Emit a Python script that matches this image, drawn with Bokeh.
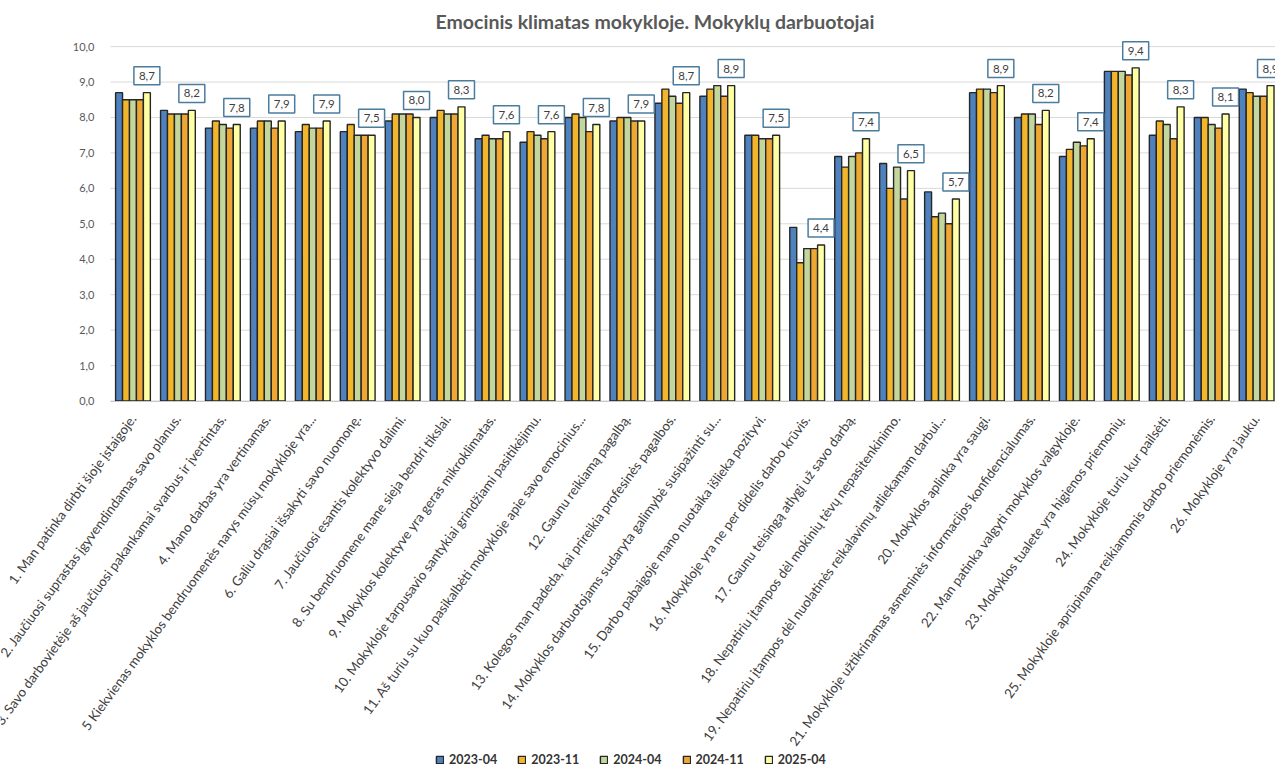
from bokeh.plotting import figure
from bokeh.models import (ColumnDataSource, Range1d, FixedTicker,
                          Legend, LegendItem)
from bokeh.transform import dodge
from bokeh.embed import file_html
from bokeh.resources import INLINE
from bokeh.core.properties import value

title_text = "Emocinis klimatas mokykloje. Mokyklų darbuotojai"

questions = [
    "1. Man patinka dirbti šioje įstaigoje.",
    "2. Jaučiuosi suprastas įgyvendindamas savo planus.",
    "3. Savo darbovietėje aš jaučiuosi pakankamai svarbus ir įvertintas.",
    "4. Mano darbas yra vertinamas.",
    "5 Kiekvienas mokyklos bendruomenės narys mūsų mokykloje yra...",
    "6. Galiu drąsiai išsakyti savo nuomonę.",
    "7. Jaučiuosi esantis kolektyvo dalimi.",
    "8. Su bendruomene mane sieja bendri tikslai.",
    "9. Mokyklos kolektyve yra geras mikroklimatas.",
    "10. Mokykloje tarpusavio santykiai grindžiami pasitikėjimu.",
    "11. Aš turiu su kuo pasikalbėti mokykloje apie savo emocinius...",
    "12. Gaunu reikiamą pagalbą.",
    "13. Kolegos man padeda, kai prireikia profesinės pagalbos.",
    "14. Mokyklos darbuotojams sudaryta galimybė susipažinti su...",
    "15. Darbo pabaigoje mano nuotaika išlieka pozityvi.",
    "16. Mokykloje yra ne per didelis darbo krūvis.",
    "17. Gaunu teisingą atlygį už savo darbą.",
    "18. Nepatiriu įtampos dėl mokinių tėvų nepasitenkinimo.",
    "19. Nepatiriu įtampos dėl nuolatinės reikalavimų atliekamam darbui...",
    "20. Mokyklos aplinka yra saugi.",
    "21. Mokykloje užtikrinamas asmeninės informacijos konfidencialumas.",
    "22. Man patinka valgyti mokyklos valgykloje.",
    "23. Mokyklos tualete yra higienos priemonių.",
    "24. Mokykloje turiu kur pailsėti.",
    "25. Mokykloje aprūpinama reikiamomis darbo priemonėmis.",
    "26. Mokykloje yra jauku.",
]

series_names = ["2023-04", "2023-11", "2024-04", "2024-11", "2025-04"]

s2023_04 = [8.7, 8.2, 7.7, 7.7, 7.6, 7.6, 7.9, 8.0, 7.4, 7.3, 8.0, 7.9, 8.4,
            8.6, 7.5, 4.9, 6.9, 6.7, 5.9, 8.7, 8.0, 6.9, 9.3, 7.5, 8.0, 8.8]
s2023_11 = [8.5, 8.1, 7.9, 7.9, 7.8, 7.8, 8.1, 8.2, 7.5, 7.6, 8.1, 8.0, 8.8,
            8.8, 7.5, 3.9, 6.6, 6.0, 5.2, 8.8, 8.1, 7.1, 9.3, 7.9, 8.0, 8.7]
s2024_04 = [8.5, 8.1, 7.8, 7.9, 7.7, 7.5, 8.1, 8.1, 7.4, 7.5, 8.0, 8.0, 8.6,
            8.9, 7.4, 4.3, 6.9, 6.6, 5.3, 8.8, 8.1, 7.3, 9.3, 7.8, 7.8, 8.6]
s2024_11 = [8.5, 8.1, 7.7, 7.7, 7.7, 7.5, 8.1, 8.1, 7.4, 7.4, 7.6, 7.9, 8.4,
            8.6, 7.4, 4.3, 7.0, 5.7, 5.0, 8.7, 7.8, 7.2, 9.2, 7.4, 7.7, 8.6]
s2025_04 = [8.7, 8.2, 7.8, 7.9, 7.9, 7.5, 8.0, 8.3, 7.6, 7.6, 7.8, 7.9, 8.7,
            8.9, 7.5, 4.4, 7.4, 6.5, 5.7, 8.9, 8.2, 7.4, 9.4, 8.3, 8.1, 8.9]

y_ticks = list(range(0, 11))

colors = ["#4F81BD", "#F3B62A", "#C3D69B", "#EFA733", "#FFFFA3"]
FONT = "Lato"

xs = list(range(len(questions)))
fields = ["s1", "s2", "s3", "s4", "s5"]
src = ColumnDataSource(dict(
    x=xs, s1=s2023_04, s2=s2023_11, s3=s2024_04, s4=s2024_11, s5=s2025_04,
    lbl=[f"{v:.1f}".replace(".", ",") for v in s2025_04],
))

# layout: the plot area proper runs from x=110px; the frame is widened to the
# canvas edges so that the long, rotated category labels and the legend are
# not clipped. Both axes are drawn inside the frame at fixed locations.
W, H = 1275, 770
AREA_LEFT = 110
X_LO, X_HI = -0.5, 25.42
px_per_unit = (W - AREA_LEFT) / (X_HI - X_LO)
x_start = X_LO - AREA_LEFT / px_per_unit

p = figure(width=W, height=H, output_backend="svg", toolbar_location=None,
           x_range=Range1d(x_start, X_HI), y_range=Range1d(-10.425, 10.2),
           min_border_left=0, min_border_right=0, min_border_top=38,
           min_border_bottom=0)
p.outline_line_color = None
p.background_fill_color = "white"

p.title.text = title_text
p.title.align = "left"
p.title.offset = 435
p.title.text_font = FONT
p.title.text_font_style = "bold"
p.title.text_font_size = "19.5px"
p.title.text_color = "#595959"
p.title.standoff = 14

# horizontal grid lines across the plot area only
p.segment(x0=X_LO, x1=26, y0=y_ticks, y1=y_ticks, line_color="#D9D9D9",
          line_width=1, level="underlay")

bw = 0.1547
offsets = [-2 * bw, -bw, 0, bw, 2 * bw]
renderers = []
for f, c, off in zip(fields, colors, offsets):
    r = p.vbar(x=dodge("x", off), top=f, width=bw, bottom=0, source=src,
               fill_color=c, line_color="#262626", line_width=1.4)
    renderers.append(r)

p.text(x=dodge("x", offsets[4]), y="s5", text="lbl", source=src,
       text_align="center", text_baseline="bottom", y_offset=-8,
       text_font=value(FONT), text_font_size="11.5px", text_color="#404040",
       background_fill_color="white", border_line_color="#4A7C9E",
       border_line_width=1.5, padding=5)

# axes
p.yaxis.fixed_location = X_LO
p.yaxis.ticker = FixedTicker(ticks=y_ticks)
p.yaxis.major_label_overrides = {t: f"{t},0" for t in y_ticks}
p.yaxis.axis_line_color = None
p.yaxis.major_tick_line_color = None
p.yaxis.minor_tick_line_color = None
p.yaxis.major_label_text_font = FONT
p.yaxis.major_label_text_font_size = "11px"
p.yaxis.major_label_text_color = "#595959"
p.yaxis.major_label_standoff = 10

p.xaxis.fixed_location = 0
p.xaxis.bounds = (X_LO, 26)
p.xaxis.ticker = FixedTicker(ticks=xs)
p.xaxis.major_label_overrides = {i: q for i, q in zip(xs, questions)}
p.xaxis.major_label_orientation = 0.94
p.xaxis.axis_line_color = "#C8C8C8"
p.xaxis.major_tick_line_color = None
p.xaxis.minor_tick_line_color = None
p.xaxis.major_label_text_font = FONT
p.xaxis.major_label_text_font_size = "13.3px"
p.xaxis.major_label_text_color = "#404040"
p.xaxis.major_label_standoff = 9

p.xgrid.visible = False
p.ygrid.visible = False

legend = Legend(items=[LegendItem(label=n, renderers=[r])
                       for n, r in zip(series_names, renderers)],
                orientation="horizontal", location=(435, 3),
                glyph_width=9, glyph_height=9, label_standoff=5, spacing=20,
                padding=2, margin=0, border_line_color=None,
                background_fill_color="white", background_fill_alpha=1,
                label_text_font=FONT,
                label_text_font_size="12.5px", label_text_font_style="bold",
                label_text_color="#333333", label_height=12)
p.add_layout(legend, "center")

open("out.html", "w").write(file_html(p, INLINE))
